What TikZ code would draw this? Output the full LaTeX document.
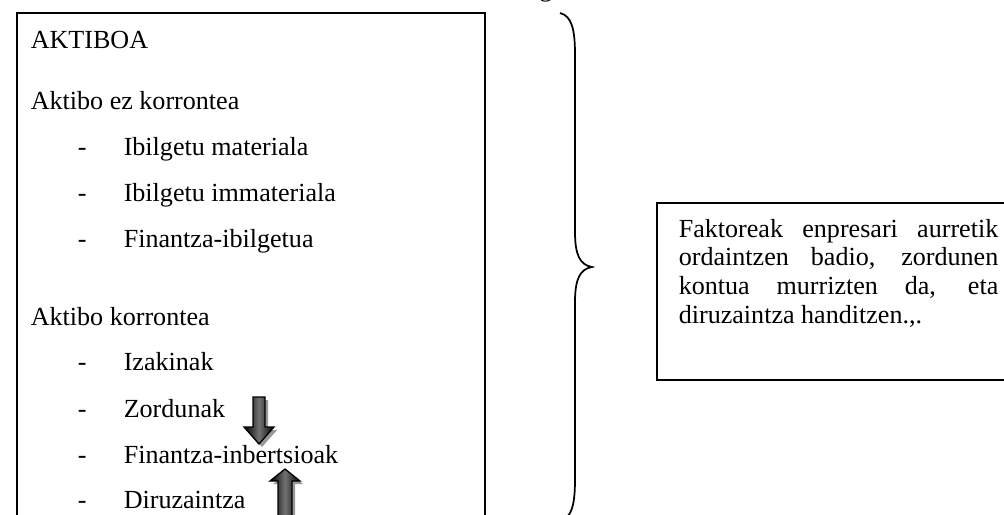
\documentclass[tikz,border=0pt]{standalone}
\usepackage{fontspec}
\setmainfont{Liberation Serif}
\usetikzlibrary{calc, shadows}

\begin{document}
\begin{tikzpicture}[x=0.46pt, y=-0.46pt, line width=0.7pt,
        txt/.style={inner sep=0pt, anchor=base west, font=\fontsize{12}{13.3}\selectfont},
        blockarrow/.style={draw=black, line width=0.6pt, left color=black, right color=black,
            middle color=black!55, drop shadow={shadow xshift=1.4pt, shadow yshift=-1.4pt, fill=black!40, opacity=1}}]
    \useasboundingbox (0,0) rectangle (1004,514);
    \node [txt, anchor=base] (topg) at (546,-3) {g};
    \draw (17,530) |- (485,13) -- (485,530);
    \node [txt] (aktiboa) at (30,49) {AKTIBOA};
    \node [txt] (ezkorr) at (30,109) {Aktibo ez korrontea};
    \node [txt] (material) at (123,155) {Ibilgetu materiala};
    \node [txt] (immaterial) at (123,201) {Ibilgetu immateriala};
    \node [txt] (finibil) at (123,247) {Finantza-ibilgetua};
    \node [txt] (korr) at (30,325) {Aktibo korrontea};
    \node [txt] (izakin) at (123,370) {Izakinak};
    \node [txt] (zordun) at (123,417) {Zordunak};
    \node [txt] (fininb) at (123,463) {Finantza-inbertsioak};
    \node [txt] (diruz) at (123,508) {Diruzaintza};
    \foreach \item in {material, immaterial, finibil, izakin, zordun, fininb, diruz}
        \node [txt] (\item-dash) at ($(\item.base west)+(-46,0)$) {-};
    \coordinate (dtop) at (259,397);
    \coordinate (utip) at (285,469);
    \draw [blockarrow, shift={(dtop)}] (-6,0) -- (6,0) -- (6,30) -- (15,30) -- (0,47)
        -- (-15,30) -- (-6,30) -- cycle;
    \draw [blockarrow, shift={(utip)}] (0,0) -- (15,12) -- (7,12) -- (7,50) -- (-7,50)
        -- (-7,12) -- (-15,12) -- cycle;
    \coordinate (bracetop) at (560,13);
    \coordinate (bracetip) at (592,267);
    \coordinate (bracebot) at (560,521);
    \draw [line width=0.8pt] (bracetop) .. controls (572,16) and (575,30) .. (575,55) -- (575,232)
        .. controls (575,255) and (580,265) .. (bracetip)
        .. controls (580,269) and (575,279) .. (575,302) -- (575,479)
        .. controls (575,504) and (572,518) .. (bracebot);
    \draw (1012,203) -| (657,380) -- (1012,380);
    \node [txt, text width=147pt, align=justify] (faktor) at (678,237) {\hyphenpenalty=10000
        Faktoreak enpresari aurretik\linebreak ordaintzen badio, zordunen\linebreak
        kontua murrizten da, eta\linebreak diruzaintza handitzen.,.};
\end{tikzpicture}
\end{document}
